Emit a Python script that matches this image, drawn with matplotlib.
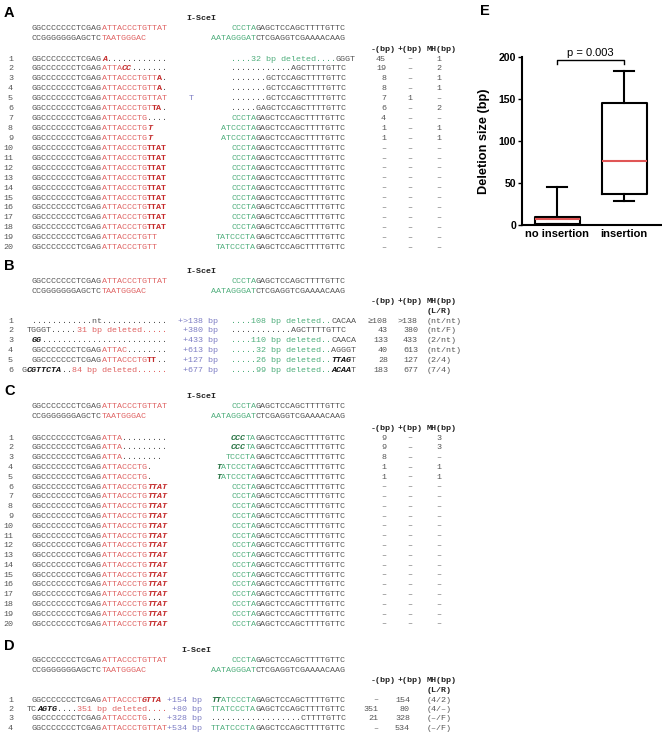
import numpy as np
from matplotlib import pyplot as plt

MONO = ['Liberation Mono', 'DejaVu Sans Mono']
SANS = ['Liberation Sans', 'DejaVu Sans']
FS = 6.0
CW = 5.0  # px per character at FS

STYLE = {
    'k': dict(color='#555555'),
    'r': dict(color='#e06464'),
    'R': dict(color='#c42a2a', fontweight='bold'),
    'Ri': dict(color='#c42a2a', fontweight='bold', fontstyle='italic'),
    'g': dict(color='#4fae7c'),
    'Gi': dict(color='#23703f', fontweight='bold', fontstyle='italic'),
    'Ki': dict(color='#111111', fontweight='bold', fontstyle='italic'),
    'p': dict(color='#7d7dc4'),
}

TOP1_L = 'GGCCCCCCCTCGAG|r:ATTACCCTGTTAT'
TOP2_L = 'CCGGGGGGGAGCTC|r:TAATGGGAC'
TOP1_R = 'g:CCCTA|GAGCTCCAGCTTTTGTTC'
TOP2_R = 'g:AATAGGGAT|CTCGAGGTCGAAAACAAG'
G14 = 'GGCCCCCCCTCGAG'

# ---- panel A ----
a_left = [
    G14 + '|Ri:A|............',
    G14 + '|r:ATTA|Ri:CC|.......',
    G14 + '|r:ATTACCCTGTT|R:A|.',
    G14 + '|r:ATTACCCTGTT|R:A|.',
    G14 + '|r:ATTACCCTGTTAT',
    G14 + '|r:ATTACCCTGT|R:TA|.',
    G14 + '|r:ATTACCCTG|....',
    G14 + '|r:ATTACCCTG|Ri:T',
    G14 + '|r:ATTACCCTG|Ri:T',
] + [G14 + '|r:ATTACCCTG|R:TTAT'] * 9 + [G14 + '|r:ATTACCCTGTT'] * 2
a_ins = [''] * 4 + ['T'] + [''] * 15
a_right = [
    'g:....32 bp deleted....|GGGT',
    '............AGCTTTTGTTC',
    '.......GCTCCAGCTTTTGTTC',
    '.......GCTCCAGCTTTTGTTC',
    '.......GCTCCAGCTTTTGTTC',
    '.....GAGCTCCAGCTTTTGTTC',
    TOP1_R,
    'g:ATCCCTA|GAGCTCCAGCTTTTGTTC',
    'g:ATCCCTA|GAGCTCCAGCTTTTGTTC',
] + [TOP1_R] * 9 + ['g:TATCCCTA|GAGCTCCAGCTTTTGTTC'] * 2
a_minus = ['45', '19', '8', '8', '7', '6', '4', '1', '1'] + ['–'] * 11
a_plus = ['–'] * 4 + ['1'] + ['–'] * 15
a_mh = ['1', '2', '1', '1', '–', '2', '–', '1', '1'] + ['–'] * 11

# ---- panel B ----
b_left = [
    '............nt.............',
    'TGGGT.....|r:31 bp deleted.....',
    'Ki:GG|.........................',
    G14 + '|r:ATTAC|........',
    G14 + '|r:ATTACCCTG|R:TT|..',
    'G|Ki:CGTTCTA|..|r:84 bp deleted......',
]
b_ins = ['+>138 bp', '+380 bp', '+433 bp', '+613 bp', '+127 bp', '+677 bp']
b_right = [
    'g:....108 bp deleted..|CACAA',
    '............AGCTTTTGTTC',
    'g:....110 bp deleted..|CAACA',
    'g:.....32 bp deleted..|AGGGT',
    'g:.....26 bp deleted..|Ki:TTAG|T',
    'g:.....99 bp deleted..|Ki:ACAA|T',
]
b_minus = ['≥108', '43', '133', '40', '28', '183']
b_plus = ['>138', '380', '433', '613', '127', '677']
b_mh = ['(nt/nt)', '(nt/F)', '(2/nt)', '(nt/nt)', '(2/4)', '(7/4)']

# ---- panel C ----
c_left = [
    G14 + '|r:ATTA|.........',
    G14 + '|r:ATTA|.........',
    G14 + '|r:ATTA|........',
    G14 + '|r:ATTACCCTG|.',
    G14 + '|r:ATTACCCTG|.',
] + [G14 + '|r:ATTACCCTG|Ri:TTAT'] * 15
c_ins = [''] * 20
c_right = [
    'Gi:CCC|g:TA|GAGCTCCAGCTTTTGTTC',
    'Gi:CCC|g:TA|GAGCTCCAGCTTTTGTTC',
    'g:TCCCTA|GAGCTCCAGCTTTTGTTC',
    'Gi:T|g:ATCCCTA|GAGCTCCAGCTTTTGTTC',
    'Gi:T|g:ATCCCTA|GAGCTCCAGCTTTTGTTC',
] + [TOP1_R] * 15
c_minus = ['9', '9', '8', '1', '1'] + ['–'] * 15
c_plus = ['–'] * 20
c_mh = ['3', '3', '–', '1', '1'] + ['–'] * 15

# ---- panel D ----
d_left = [
    G14 + '|r:ATTACCCT|Ri:GTTA',
    'TC|Ki:AGTG|....|r:351 bp deleted....',
    G14 + '|r:ATTACCCTG|...',
    G14 + '|r:ATTACCCTGTTAT',
]
d_ins = ['+154 bp', '+80 bp', '+328 bp', '+534 bp']
d_right = [
    'Gi:TT|g:ATCCCTA|GAGCTCCAGCTTTTGTTC',
    'g:TTATCCCTA|GAGCTCCAGCTTTTGTTC',
    '..................CTTTTGTTC',
    'g:TTATCCCTA|GAGCTCCAGCTTTTGTTC',
]
d_minus = ['–', '351', '21', '–']
d_plus = ['154', '80', '328', '534']
d_mh = ['(4/2)', '(4/–)', '(–/F)', '(–/F)']

# ---- panel E: deletion sizes ----
no_insertion_del = [45, 19, 8, 8, 7, 6, 4, 1, 1, 9, 9, 8, 1, 1]
insertion_del = [108, 43, 133, 40, 28, 183]
groups = ['no insertion', 'insertion']
p_text = 'p = 0.003'


def parse(markup):
    segs = []
    for part in markup.split('|'):
        if ':' in part:
            st, txt = part.split(':', 1)
        else:
            st, txt = 'k', part
        segs.append((txt, st))
    return segs


def put_seq(ax, x0, y, markup, col):
    for txt, st in parse(markup):
        ax.text(x0 + col * CW, y, txt, fontsize=FS, family=MONO,
                va='center', ha='left', **STYLE[st])
        col += len(txt)


def seq_len(markup):
    return sum(len(t) for t, _ in parse(markup))


L0, R0 = 32, 231


def draw_panel(ax, lab, y_top, rows_y0, pitch, left, ins, right, minus, plus, mh,
               cols, ins_pos, lr=False, scei_x=186):
    ax.text(4, y_top - 15, lab, fontsize=10.5, family=SANS, fontweight='bold',
            va='center', ha='left')
    ax.text(scei_x, y_top - 10, 'I-SceI', fontsize=FS, family=MONO,
            fontweight='bold', va='center', ha='left', color='#222222')
    put_seq(ax, L0, y_top, TOP1_L, 0)
    put_seq(ax, L0, y_top + 10, TOP2_L, 0)
    put_seq(ax, R0, y_top, TOP1_R, 0)
    put_seq(ax, R0, y_top + 10, TOP2_R, -4)
    yh = rows_y0 - (20 if lr else 10)
    for hx, h in zip([371, 397.5, 426.5], ['-(bp)', '+(bp)', 'MH(bp)']):
        ax.text(hx, yh, h, fontsize=FS, family=MONO, fontweight='bold',
                va='center', ha='left', color='#222222')
    if lr:
        ax.text(426.5, yh + 10, '(L/R)', fontsize=FS, family=MONO,
                fontweight='bold', va='center', ha='left', color='#222222')
    for i in range(len(left)):
        y = rows_y0 + i * pitch
        ax.text(13, y, str(i + 1), fontsize=FS, family=MONO, va='center',
                ha='right', color='#555555')
        put_seq(ax, L0, y, left[i], min(0, 27 - seq_len(left[i])))
        rs = right[i]
        put_seq(ax, R0, y, rs, 0 if 'deleted' in rs else 23 - seq_len(rs))
        if ins[i]:
            ax.text(ins_pos[1], y, ins[i], fontsize=FS, family=MONO, va='center',
                    ha=ins_pos[0], **STYLE['p'])
        for vals, (ha, x) in zip([minus, plus, mh], cols):
            ax.text(x, y, vals[i], fontsize=FS, family=MONO, va='center',
                    ha=ha, color='#555555')


fig = plt.figure(figsize=(6.62, 7.37), dpi=100)
ax = fig.add_axes([0, 0, 1, 1])
ax.set_xlim(0, 662)
ax.set_ylim(737, 0)
ax.axis('off')

cols_ac = [('right', 386), ('center', 410), ('center', 439)]
draw_panel(ax, 'A', 28, 59, 9.93, a_left, a_ins, a_right, a_minus, a_plus, a_mh,
           cols_ac, ('center', 191))
draw_panel(ax, 'B', 281, 321, 9.93, b_left, b_ins, b_right, b_minus, b_plus, b_mh,
           [('right', 388), ('right', 418), ('left', 427)], ('right', 218), lr=True)
draw_panel(ax, 'C', 406, 438, 9.8, c_left, c_ins, c_right, c_minus, c_plus, c_mh,
           cols_ac, ('center', 191))
draw_panel(ax, 'D', 661, 700, 9.5, d_left, d_ins, d_right, d_minus, d_plus, d_mh,
           [('right', 378), ('right', 410), ('left', 427)], ('right', 202),
           lr=True, scei_x=181)

# ---- box plot E ----
ax.text(480, 11, 'E', fontsize=10.5, family=SANS, fontweight='bold',
        va='center', ha='left')

stats = []
for name, d in zip(groups, [no_insertion_del, insertion_del]):
    q1, med, q3 = np.percentile(d, [25, 50, 75], method='weibull')
    stats.append(dict(label=name, med=med, q1=q1, q3=q3,
                      whislo=min(d), whishi=max(d), fliers=[]))

bx = fig.add_axes([521.7 / 662, 1 - 225 / 737, (661 - 521.7) / 662, (225 - 56.7) / 737])
bx.bxp(stats, positions=[1, 2], widths=0.67, capwidths=0.3, showfliers=False,
       boxprops=dict(color='black', lw=1.5),
       whiskerprops=dict(color='black', lw=1.5),
       capprops=dict(color='black', lw=1.5),
       medianprops=dict(color='#e05555', lw=1.5))
bx.set_xlim(0.473, 2.55)
bx.set_ylim(0, 200)
bx.set_yticks([0, 50, 100, 150, 200])
bx.spines['top'].set_visible(False)
bx.spines['right'].set_visible(False)
bx.spines['left'].set_linewidth(1.5)
bx.spines['bottom'].set_linewidth(1.5)
bx.tick_params(axis='y', direction='out', length=3, width=1, pad=1)
bx.tick_params(axis='x', length=0, pad=3)
for t in bx.get_yticklabels():
    t.set_fontfamily(SANS)
    t.set_fontweight('bold')
    t.set_fontsize(7.6)
for t in bx.get_xticklabels():
    t.set_fontfamily(SANS)
    t.set_fontweight('bold')
    t.set_fontsize(8)
bx.set_ylabel('Deletion size (bp)', fontsize=9.2, fontweight='bold',
              family=SANS, labelpad=6)
bx.plot([1, 1, 2, 2], [191, 196, 196, 191], color='black', lw=1, clip_on=False)
bx.text(1.5, 198, p_text, fontsize=8, family=SANS, ha='center', va='bottom')

fig.savefig('out.png', dpi=100)
